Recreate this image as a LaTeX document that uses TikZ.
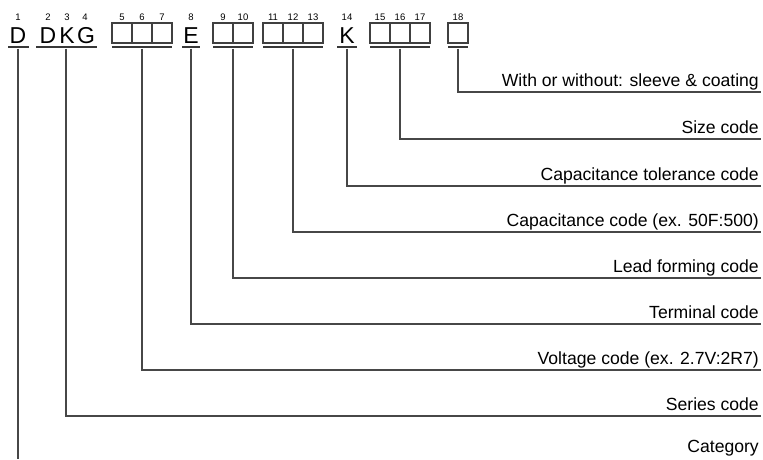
\documentclass[tikz,border=0pt]{standalone}
\usepackage{fontspec}
\setmainfont{Liberation Sans}
\usetikzlibrary{calc,positioning}

\begin{document}
\begin{tikzpicture}
  [
    x=1pt, y=-1pt,
    letter/.style={
      anchor=base, inner sep=0pt,
      font=\fontsize{23}{23}\selectfont
    },
    num/.style={
      anchor=base, inner sep=0pt,
      font=\fontsize{9.5}{9.5}\selectfont
    },
    cell/.style={
      draw=black!75, line width=1.1pt,
      minimum width=20pt, minimum height=20pt,
      inner sep=0pt
    },
    ubar/.style={
      fill=black!78, inner sep=0pt,
      minimum height=2.6pt
    },
    label/.style={
      anchor=south east, inner xsep=2pt, inner ysep=5pt,
      text depth=0pt,
      font=\fontsize{17.6}{17.6}\selectfont
    },
    lead/.style={
      draw=black!72, line width=1.2pt
    }
  ]
\useasboundingbox (0,0) rectangle (763,459);

% Letters
\node (l1)  [letter] at (18,43)  {D};
\node (l2)  [letter] at (48,43)  {D};
\node (l3)  [letter] at (67,43)  {K};
\node (l4)  [letter] at (86,43)  {G};
\node (l8)  [letter] at (191,43) {E};
\node (l14) [letter] at (347,43) {K};

% Boxes
\foreach \n/\x in {5/122,6/142,7/162,9/223,10/243,11/273,12/293,13/313,15/380,16/400,17/420,18/458}
  \node (c\n) [cell] at (\x,33) {};

% Position numbers
\foreach \n/\x in {1/18,2/48,3/67,4/85,5/122,6/142,7/162,8/191,9/223,10/243,11/273,12/293,13/313,14/347,15/380,16/400,17/420,18/458}
  \node (n\n) [num] at (\x,20) {\n};

% Fields
\node (f1)  [ubar, minimum width=21pt] at (18,47)  {};
\node (f2)  [ubar, minimum width=61pt] at (66,47)  {};
\node (f5)  [ubar, minimum width=60pt] at (142,47) {};
\node (f8)  [ubar, minimum width=18pt] at (191,47) {};
\node (f9)  [ubar, minimum width=40pt] at (233,47) {};
\node (f11) [ubar, minimum width=60pt] at (293,47) {};
\node (f14) [ubar, minimum width=20pt] at (347,47) {};
\node (f15) [ubar, minimum width=60pt] at (400,47) {};
\node (f18) [ubar, minimum width=20pt] at (458,47) {};

% Labels
\node (t18) [label] at (761,92)  {With or without: sleeve \& coating};
\node (t15) [label] at (761,139) {Size code};
\node (t14) [label] at (761,186) {Capacitance tolerance code};
\node (t11) [label] at (761,232) {Capacitance code (ex. 50F:500)};
\node (t9)  [label] at (761,278) {Lead forming code};
\node (t8)  [label] at (761,324) {Terminal code};
\node (t5)  [label] at (761,370) {Voltage code (ex. 2.7V:2R7)};
\node (t2)  [label] at (761,416) {Series code};
\node (t1)  [label] at (761,458) {Category};
\coordinate (catend) at (18,459);

% Leaders
\draw [lead] (f18.south) |- (t18.south east);
\draw [lead] (f15.south) |- (t15.south east);
\draw [lead] (f14.south) |- (t14.south east);
\draw [lead] (f11.south) |- (t11.south east);
\draw [lead] (f9.south)  |- (t9.south east);
\draw [lead] (f8.south)  |- (t8.south east);
\draw [lead] (f5.south)  |- (t5.south east);
\draw [lead] (f2.south)  |- (t2.south east);
\draw [lead] (f1.south) -- (catend);

\end{tikzpicture}
\end{document}
